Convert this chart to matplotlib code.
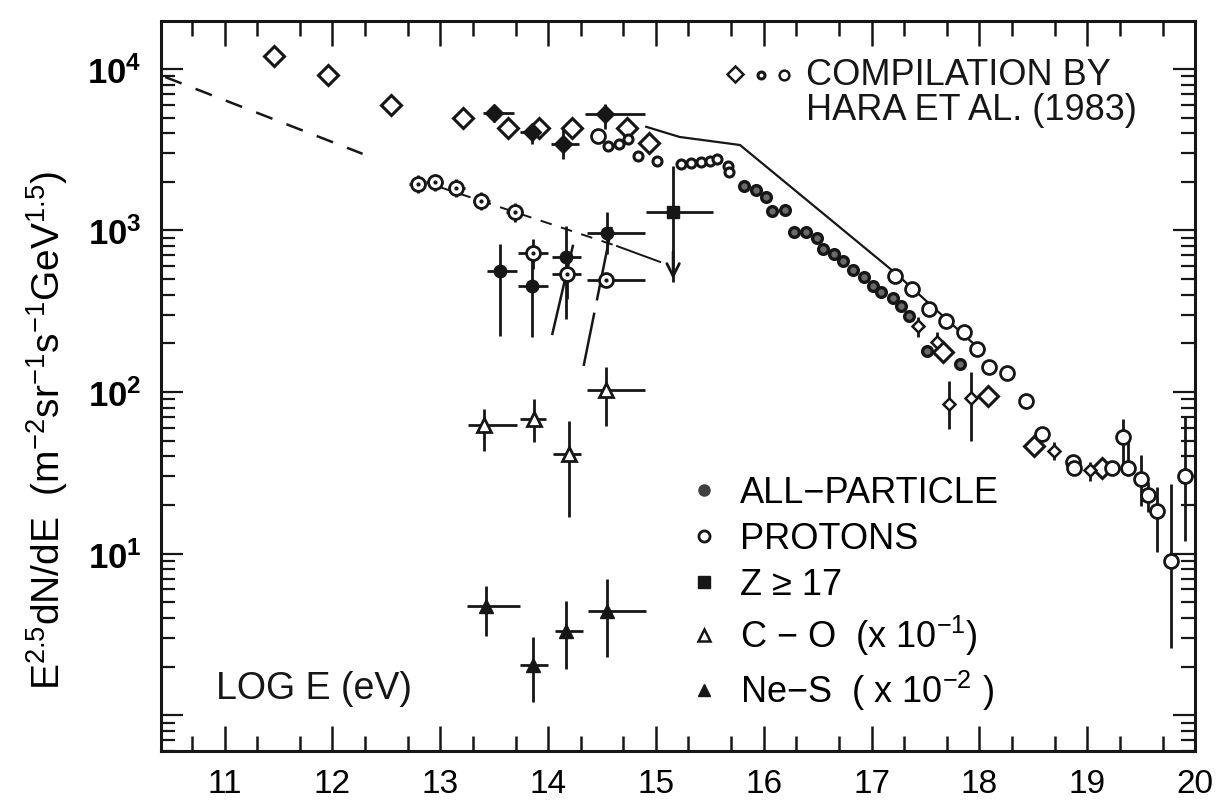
import numpy as np
import matplotlib
matplotlib.use("Agg")
import matplotlib.pyplot as plt
from matplotlib.lines import Line2D
from matplotlib.ticker import FixedLocator, LogLocator, NullFormatter, FuncFormatter

plt.rcParams['font.family'] = ['Liberation Sans', 'DejaVu Sans']
plt.rcParams['mathtext.fontset'] = 'custom'
plt.rcParams['mathtext.rm'] = 'Liberation Sans'
plt.rcParams['mathtext.it'] = 'Liberation Sans'
plt.rcParams['mathtext.bf'] = 'Liberation Sans:bold'

INK = '#161616'

# --- compilation (Hara et al. 1983), open diamonds
dia_x = [11.46, 11.96, 12.54, 13.21, 13.63, 13.92, 14.22, 14.73, 14.94,
         17.66, 18.08, 18.51, 19.14]
dia_y = [12000, 9200, 6000, 5000, 4300, 4300, 4300, 4300, 3500,
         177, 94, 46, 34]

# compilation diamonds carrying error bars
diab_x = [17.43, 17.61, 17.72, 17.92, 18.69, 19.03]
diab_y = [256, 204, 84, 92, 43, 33]
diab_lo = [219, 184, 59, 50, 38, 28]
diab_hi = [291, 236, 117, 133, 49, 37]

# compilation, large open circles
circ_x = [14.46, 17.22, 17.38, 17.53, 17.69, 17.86, 17.98, 18.09, 18.26,
          18.43, 18.58, 18.87, 18.88, 19.23]
circ_y = [3850, 523, 435, 327, 275, 235, 184, 143, 131,
          88, 55, 37, 34, 34]

# large open circles with error bars (highest energies)
circb_x = [19.33, 19.38, 19.50, 19.56, 19.65, 19.78, 19.91]
circb_y = [53, 34, 29, 23, 18.3, 9.0, 30]
circb_lo = [34, 30, 19.7, 18, 10.2, 2.6, 11.9]
circb_hi = [68, 50, 41, 27.7, 26, 27, 71]

# compilation, small circles below the knee
small_x = [14.56, 14.66, 14.74, 14.83, 15.01, 15.23, 15.33, 15.42, 15.50,
           15.57, 15.67, 15.68]
small_y = [3330, 3440, 3690, 2890, 2690, 2580, 2620, 2660, 2700,
           2770, 2510, 2300]

# compilation, dense points through the knee
knee_x = [15.82, 15.93, 16.02, 16.08, 16.20, 16.28, 16.39, 16.49, 16.55,
          16.65, 16.74, 16.83, 16.93, 17.01, 17.09, 17.20, 17.27, 17.35,
          17.51, 17.82]
knee_y = [1890, 1780, 1610, 1320, 1340, 980, 980, 900, 768,
          715, 647, 569, 515, 453, 416, 382, 341, 296,
          179, 149]

# --- JACEE measurements
# all-particle (upper group)
allp_x = [13.50, 13.85, 14.14, 14.53]
allp_y = [5350, 4070, 3440, 5260]
allp_lo = [4700, 3440, 2770, 4250]
allp_hi = [6000, 4560, 4250, 6070]
allp_xl = [13.40, 13.74, 14.03, 14.34]
allp_xh = [13.68, 13.95, 14.29, 14.90]

# filled points (lower group)
fill_x = [13.55, 13.85, 14.17, 14.55]
fill_y = [561, 453, 686, 967]
fill_lo = [222, 219, 283, 716]
fill_hi = [824, 716, 1067, 1302]
fill_xl = [13.43, 13.72, 14.04, 14.36]
fill_xh = [13.71, 14.00, 14.31, 14.90]

# protons
prot_x = [12.79, 12.95, 13.15, 13.38, 13.69, 13.86, 14.18, 14.54]
prot_y = [1940, 1990, 1830, 1520, 1300, 726, 538, 493]
prot_lo = [1700, 1750, 1600, 1330, 1120, 578, 377, 493]
prot_hi = [2200, 2250, 2080, 1720, 1480, 885, 716, 493]
prot_xl = [12.71, 12.87, 13.07, 13.30, 13.61, 13.72, 14.04, 14.36]
prot_xh = [12.87, 13.03, 13.23, 13.46, 13.77, 14.00, 14.31, 14.90]

# Z >= 17 (upper limit)
z17_x = [15.16]
z17_y = [1300]
z17_xl = [14.91]
z17_xh = [15.53]
z17_top = [2510]
z17_lim = [480]

# C-O (x 1e-1)
co_x = [13.41, 13.87, 14.19, 14.54]
co_y = [62.6, 68, 41.3, 103]
co_lo = [43, 49, 16.8, 61.5]
co_hi = [78.5, 90.6, 66, 143]
co_xl = [13.26, 13.74, 14.05, 14.36]
co_xh = [13.71, 13.98, 14.31, 14.90]

# Ne-S (x 1e-2)
ne_x = [13.42, 13.86, 14.17, 14.55]
ne_y = [4.73, 2.04, 3.31, 4.41]
ne_lo = [3.08, 1.20, 1.93, 2.29]
ne_hi = [6.3, 3.04, 5.08, 6.95]
ne_xl = [13.25, 13.74, 14.06, 14.37]
ne_xh = [13.74, 14.00, 14.32, 14.91]

# curves
direct_x = [10.45, 12.28]
direct_y = [8900, 2980]
pfit_x = [12.99, 14.64]
pfit_y = [1860, 800]
pfit2_x = [14.64, 15.04]
pfit2_y = [800, 638]
allfit_x = [14.91, 15.22, 15.78, 17.22, 17.98]
allfit_y = [4380, 3790, 3380, 546, 190]
slant1_x = [14.23, 14.04]
slant1_y = [802, 229]
slant2_x = [14.59, 14.33]
slant2_y = [1052, 145]

xticks = list(range(11, 21))
ylabelled = [1, 2, 3, 4]   # decades that carry a label


def errs(v, lo, hi):
    v = np.asarray(v, float)
    return [v - np.asarray(lo, float), np.asarray(hi, float) - v]


def ylab(v, pos):
    e = int(round(np.log10(v)))
    return r'$\mathbf{10^{%d}}$' % e if e in ylabelled else ''


fig = plt.figure(figsize=(12.24, 8.04), dpi=100)
ax = fig.add_axes([0.1315, 0.0647, 0.8448, 0.908])
ax.set_yscale('log')
ax.set_xlim(10.41, 20.0)
ax.set_ylim(0.60, 19800)

eb = dict(fmt='none', ecolor=INK, elinewidth=2.0, capsize=0, zorder=2)

# curves
ax.plot(direct_x, direct_y, color=INK, lw=1.8, dashes=(7, 6))
ax.plot(pfit_x, pfit_y, color=INK, lw=1.4, dashes=(6, 5))
ax.plot(pfit2_x, pfit2_y, color=INK, lw=1.4)
ax.plot(allfit_x, allfit_y, color=INK, lw=1.6)
ax.plot(slant1_x, slant1_y, color=INK, lw=1.8)
ax.plot(slant2_x, slant2_y, color=INK, lw=1.8, dashes=(30, 5, 60, 8))

# compilation
ax.plot(dia_x, dia_y, 'D', ms=10, mfc='white', mec=INK, mew=2.2, ls='none', zorder=3)
ax.errorbar(diab_x, diab_y, yerr=errs(diab_y, diab_lo, diab_hi), **eb)
ax.plot(diab_x, diab_y, 'D', ms=6, mfc='white', mec=INK, mew=1.8, ls='none', zorder=3)
ax.plot(circ_x, circ_y, 'o', ms=10, mfc='white', mec=INK, mew=2.0, ls='none', zorder=3)
ax.errorbar(circb_x, circb_y, yerr=errs(circb_y, circb_lo, circb_hi), **eb)
ax.plot(circb_x, circb_y, 'o', ms=10, mfc='white', mec=INK, mew=2.0, ls='none', zorder=3)
ax.plot(small_x, small_y, 'o', ms=6.5, mfc='white', mec=INK, mew=2.2, ls='none', zorder=3)
ax.plot(knee_x, knee_y, 'o', ms=7, mfc='#6a6a6a', mec=INK, mew=2.4, ls='none', zorder=3)

# JACEE
ax.errorbar(allp_x, allp_y, yerr=errs(allp_y, allp_lo, allp_hi),
            xerr=errs(allp_x, allp_xl, allp_xh), **eb)
ax.plot(allp_x, allp_y, 'D', ms=9, color=INK, ls='none', zorder=3)
ax.errorbar(fill_x, fill_y, yerr=errs(fill_y, fill_lo, fill_hi),
            xerr=errs(fill_x, fill_xl, fill_xh), **eb)
ax.plot(fill_x, fill_y, 'o', ms=9, color=INK, ls='none', zorder=3)
ax.errorbar(prot_x, prot_y, yerr=errs(prot_y, prot_lo, prot_hi),
            xerr=errs(prot_x, prot_xl, prot_xh), **eb)
ax.plot(prot_x, prot_y, 'o', ms=10, mfc='white', mec=INK, mew=2.0, ls='none', zorder=3)
ax.plot(prot_x, prot_y, 'o', ms=2, color=INK, ls='none', zorder=4)

ax.errorbar(z17_x, z17_y, yerr=errs(z17_y, z17_lim, z17_top),
            xerr=errs(z17_x, z17_xl, z17_xh), **eb)
ax.plot(z17_x, z17_y, 's', ms=9, color=INK, zorder=3)
for x0, lim in zip(z17_x, z17_lim):
    ax.annotate('', xy=(x0, lim), xytext=(x0, lim * 1.6),
                arrowprops=dict(arrowstyle='->,head_length=0.9,head_width=0.45',
                                color=INK, lw=2.0))

ax.errorbar(co_x, co_y, yerr=errs(co_y, co_lo, co_hi),
            xerr=errs(co_x, co_xl, co_xh), **eb)
ax.plot(co_x, co_y, '^', ms=10, mfc='white', mec=INK, mew=2.0, ls='none', zorder=3)
ax.errorbar(ne_x, ne_y, yerr=errs(ne_y, ne_lo, ne_hi),
            xerr=errs(ne_x, ne_xl, ne_xh), **eb)
ax.plot(ne_x, ne_y, '^', ms=10, color=INK, ls='none', zorder=3)

# axes and ticks
for s in ax.spines.values():
    s.set_linewidth(2.2)
    s.set_color(INK)
ax.xaxis.set_major_locator(FixedLocator(xticks))
ax.xaxis.set_minor_locator(FixedLocator(
    [t + np.log10(m) for t in range(10, 20) for m in (2, 5)]))
ax.set_xticklabels([str(t) for t in xticks])
ax.yaxis.set_major_locator(LogLocator(base=10, numticks=10))
ax.yaxis.set_major_formatter(FuncFormatter(ylab))
ax.yaxis.set_minor_locator(LogLocator(base=10, subs=np.arange(2, 10), numticks=20))
ax.yaxis.set_minor_formatter(NullFormatter())
ax.tick_params(which='both', direction='in', top=True, right=True, color=INK)
ax.tick_params(axis='x', which='major', length=18, width=1.8, labelsize=24, pad=12)
ax.tick_params(axis='x', which='minor', length=11, width=1.8)
ax.tick_params(axis='y', which='major', length=16, width=1.6, labelsize=25, pad=14)
ax.tick_params(axis='y', which='minor', length=10, width=1.6)

ax.set_ylabel(r'E$^{2.5}$dN/dE  (m$^{-2}$sr$^{-1}$s$^{-1}$GeV$^{1.5}$)',
              fontsize=28)
ax.yaxis.set_label_coords(-0.088, 0.44)
ax.text(0.053, 0.072, 'LOG E (eV)', transform=ax.transAxes, fontsize=27, color=INK)

# compilation key
ax.plot([0.555], [0.928], 'D', ms=8, mfc='white', mec=INK, mew=1.8, transform=ax.transAxes)
ax.plot([0.580], [0.926], 'o', ms=5, mfc='white', mec=INK, mew=2.2, transform=ax.transAxes)
ax.plot([0.603], [0.926], 'o', ms=7, mfc='white', mec=INK, mew=1.8, transform=ax.transAxes)
ax.text(0.624, 0.951, 'COMPILATION BY\nHARA ET AL. (1983)', transform=ax.transAxes,
        fontsize=26, va='top', ha='left', color=INK, linespacing=1.0)

handles = [
    Line2D([], [], ls='none', marker='o', ms=8, color='#404040'),
    Line2D([], [], ls='none', marker='o', ms=8, mfc='white', mec=INK, mew=2.0),
    Line2D([], [], ls='none', marker='s', ms=8, color=INK),
    Line2D([], [], ls='none', marker='^', ms=9, mfc='white', mec=INK, mew=1.8),
    Line2D([], [], ls='none', marker='^', ms=9, color=INK),
]
labels = ['ALL\u2212PARTICLE', 'PROTONS', 'Z \u2265 17',
          'C \u2212 O  (x 10$^{-1}$)', 'Ne\u2212S  ( x 10$^{-2}$ )']
leg = ax.legend(handles, labels, loc='upper left', bbox_to_anchor=(0.49, 0.412),
                frameon=False, fontsize=26, handlelength=0.6, handletextpad=0.7,
                labelspacing=0.3, borderpad=0.2)

fig.savefig('out.png', dpi=100, facecolor='white')
